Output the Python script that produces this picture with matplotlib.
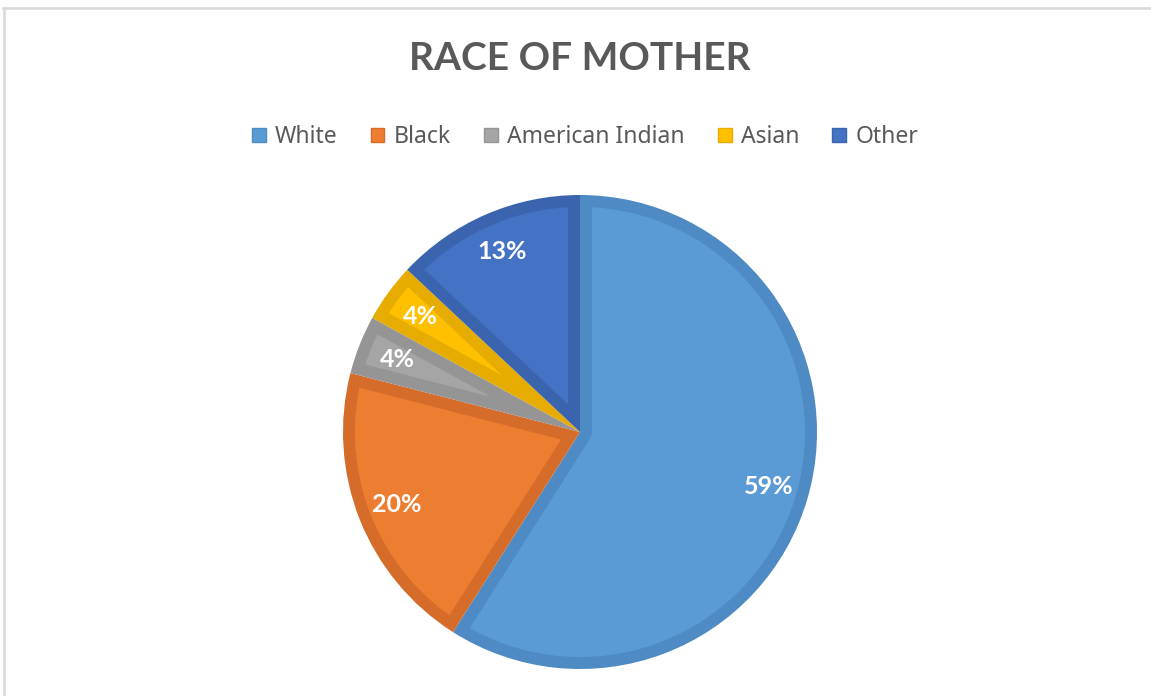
import numpy as np
import matplotlib.pyplot as plt
from matplotlib.lines import Line2D
from matplotlib.patches import Patch, Polygon

categories = ["White", "Black", "American Indian", "Asian", "Other"]
shares = [59, 20, 4, 4, 13]
fills = ["#5B9BD5", "#ED7D31", "#A5A5A5", "#FFC000", "#4472C4"]
edges = ["#4E8AC3", "#D56C2A", "#959595", "#E6AC00", "#3B64AF"]

plt.rcParams['font.family'] = ['Noto Sans', 'DejaVu Sans']


def inset_wedge(t1, t2, r, d):
    """Polygon of a wedge (angles in degrees, ccw) shrunk inward by d."""
    a1, a2 = np.radians(t1), np.radians(t2)
    span = a2 - a1
    rr = r - d
    n1 = np.array([-np.sin(a1), np.cos(a1)])
    n2 = np.array([np.sin(a2), -np.cos(a2)])
    da = np.arcsin(d / rr)
    arc = np.linspace(a1 + da, a2 - da, 200)
    outer = np.column_stack([rr * np.cos(arc), rr * np.sin(arc)])
    if span < np.pi:
        apex = d / np.sin(span / 2) * np.array([np.cos(a1 + span / 2), np.sin(a1 + span / 2)])
        return np.vstack([apex[None, :], outer, apex[None, :]])
    # reflex wedge: round the inner corner around the centre
    inner_a = np.linspace(a2 - np.pi / 2, a1 + np.pi / 2, 100)
    inner = np.column_stack([d * np.cos(inner_a), d * np.sin(inner_a)])
    return np.vstack([(d * n1)[None, :], outer, (d * n2)[None, :], inner])


fig = plt.figure(figsize=(11.51, 6.96), dpi=100)
fig.patch.set_facecolor("white")

# frame lines (top and left only visible in the reference)
fig.add_artist(Line2D([3 / 1151, 1], [1 - 8 / 696, 1 - 8 / 696], color="#D9D9D9", lw=1.8))
fig.add_artist(Line2D([4 / 1151, 4 / 1151], [0, 1 - 8 / 696], color="#D9D9D9", lw=1.8))

r_px = 237
cx, cy = 580, 432
ax = fig.add_axes([(cx - r_px) / 1151, (696 - cy - r_px) / 696,
                   2 * r_px / 1151, 2 * r_px / 696])

band = 12 / r_px
wedges, texts, autotexts = ax.pie(
    shares, colors=edges, startangle=90, counterclock=False,
    autopct='%1.0f%%', pctdistance=0.83, radius=1,
    wedgeprops=dict(linewidth=0),
    textprops=dict(color="white", fontsize=18, fontweight="bold", family="Lato"))
for w, fc in zip(wedges, fills):
    poly = inset_wedge(w.theta1, w.theta2, w.r, band)
    ax.add_patch(Polygon(poly, closed=True, facecolor=fc, edgecolor="none", zorder=w.get_zorder()))
for t in autotexts:
    t.set_zorder(5)
ax.set_xlim(-1, 1)
ax.set_ylim(-1, 1)
ax.set_aspect("equal")
ax.axis("off")

fig.text(580 / 1151, 1 - 58 / 696, "RACE OF MOTHER", ha="center", va="center",
         fontsize=28, fontweight="bold", color="#595959", family="Lato")

handles = [Patch(facecolor=f, edgecolor=e, linewidth=1) for f, e in zip(fills, edges)]
leg = fig.legend(handles, categories, loc="center", bbox_to_anchor=(585 / 1151, 1 - 137 / 696),
                 ncol=5, frameon=False, fontsize=16.5, handlelength=0.6, handleheight=0.6,
                 handletextpad=0.4, columnspacing=1.45, labelcolor="#595959")

fig.savefig("out.png", dpi=100)
